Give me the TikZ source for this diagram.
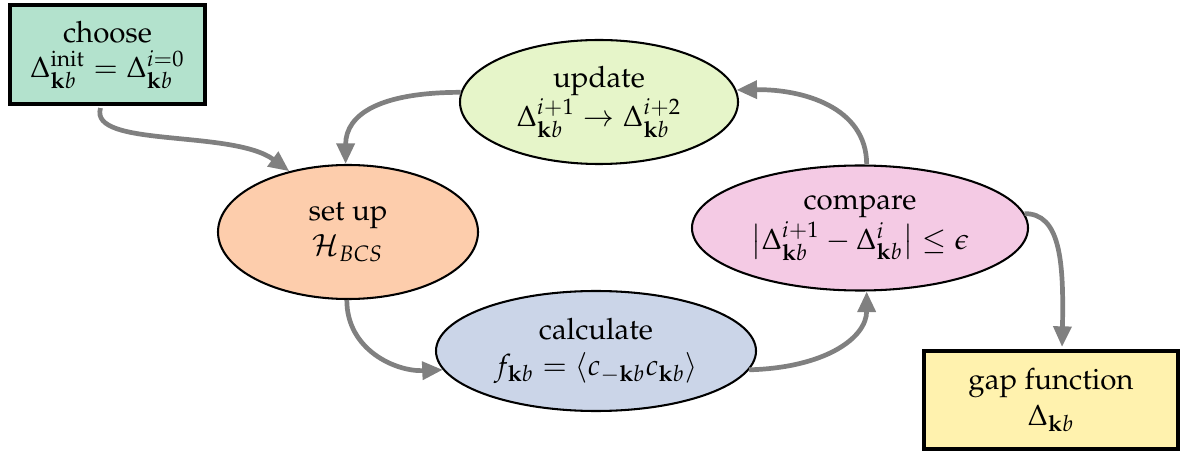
\documentclass[tikz,border=0pt]{standalone}
\usepackage[T1]{fontenc}
\usepackage{mathpazo}
\usetikzlibrary{shapes.geometric,arrows.meta,calc}
\definecolor{cgreen}{HTML}{B3E2CD}
\definecolor{corange}{HTML}{FDCDAC}
\definecolor{cblue}{HTML}{CBD5E8}
\definecolor{cpink}{HTML}{F4CAE4}
\definecolor{clime}{HTML}{E6F5C9}
\definecolor{cyellow}{HTML}{FFF2AE}
\tikzset{
  ell/.style={ellipse, draw=black, line width=0.7pt, align=center, inner sep=0pt},
  boxnode/.style={rectangle, draw=black, line width=1.4pt, align=center, inner sep=0pt},
  flow/.style={draw=gray, line width=1.6pt, -{Triangle[length=7pt,width=6pt]}}
}
\begin{document}
\begin{tikzpicture}[x=0.34pt,y=-0.34pt]
\useasboundingbox (0,0) rectangle (1184,454);
\node[boxnode, fill=cgreen, minimum width=195*0.34pt, minimum height=99*0.34pt] (choose) at (107.5,54.5)
  {choose\\ $\Delta_{\mathbf{k}b}^{\mathrm{init}}=\Delta_{\mathbf{k}b}^{i=0}$};
\node[ell, fill=clime, minimum width=278*0.34pt, minimum height=124*0.34pt] (update) at (599,102)
  {update\\ $\Delta_{\mathbf{k}b}^{i+1}\rightarrow\Delta_{\mathbf{k}b}^{i+2}$};
\node[ell, fill=corange, minimum width=260*0.34pt, minimum height=134*0.34pt] (setup) at (348,232)
  {set up\\ $\mathcal{H}_{BCS}$};
\node[ell, fill=cblue, minimum width=320*0.34pt, minimum height=120*0.34pt] (calc) at (596,351)
  {calculate\\ $f_{\mathbf{k}b}=\langle c_{-\mathbf{k}b}c_{\mathbf{k}b}\rangle$};
\node[ell, fill=cpink, minimum width=336*0.34pt, minimum height=125*0.34pt] (compare) at (860,228)
  {compare\\ $\bigl|\Delta_{\mathbf{k}b}^{i+1}-\Delta_{\mathbf{k}b}^{i}\bigr|\leq\epsilon$};
\node[boxnode, fill=cyellow, minimum width=254*0.34pt, minimum height=98*0.34pt] (gap) at (1051,400)
  {gap function\\ $\Delta_{\mathbf{k}b}$};
\draw[flow] ($(choose.south)+(-7,2)$) .. controls +(-12,40) and +(-57,-42) .. (setup.134);
\draw[flow] (update.176) .. controls +(-80,0) and +(0,-50) .. (setup.92);
\draw[flow] (setup.-91) .. controls +(0,50) and +(-47,2) .. (calc.187);
\draw[flow] (calc.-7) .. controls +(75,-2) and +(0,47) .. (compare.-84);
\draw[flow] (compare.84) .. controls +(0,-58) and +(65,-1) .. (update.5);
\draw[flow] (compare.5) .. controls +(35,0) and +(2,-88) .. ($(gap.north)+(11,-2)$);
\end{tikzpicture}
\end{document}
